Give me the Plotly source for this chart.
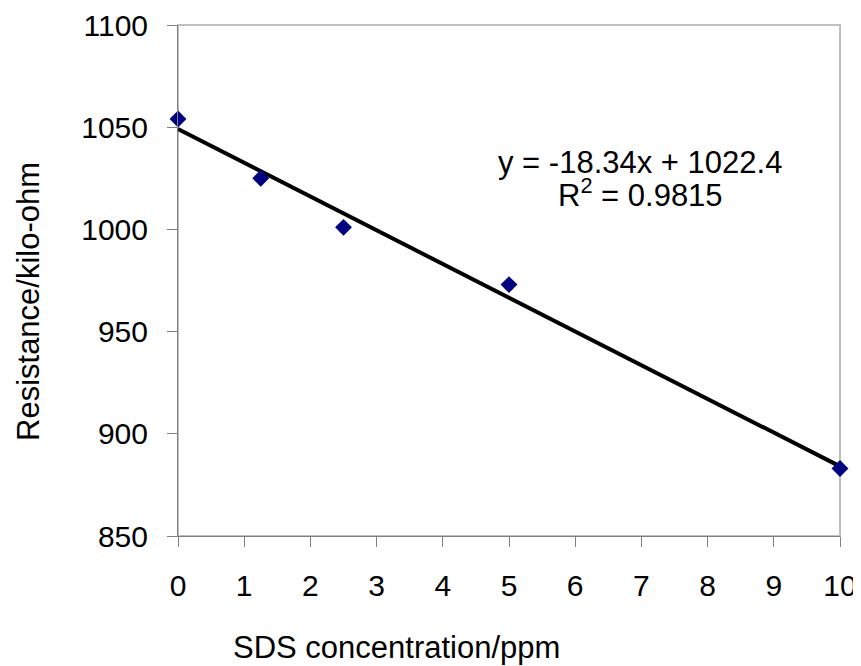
import numpy as np
import plotly.graph_objects as go

sds_ppm = [0, 1.25, 2.5, 5, 10]
resistance_kohm = [1054, 1025, 1001, 973, 883]
x_ticks = [0, 1, 2, 3, 4, 5, 6, 7, 8, 9, 10]
y_ticks = [850, 900, 950, 1000, 1050, 1100]
equation_line = "y = -18.34x + 1022.4"
r2_line = "R<sup>2</sup> = 0.9815"
x_title = "SDS concentration/ppm"
y_title = "Resistance/kilo-ohm"

slope, intercept = np.polyfit(sds_ppm, resistance_kohm, 1)
fit_x = [min(sds_ppm), max(sds_ppm)]
fit_y = [slope * v + intercept for v in fit_x]

FONT = "Liberation Sans, Arial, sans-serif"
OFF = 8  # page body margin
W, H = 861 - OFF, 666 - OFF
L, R, T, B = 178 - OFF, 21, 25 - OFF, 130
pw, ph = W - L - R, H - T - B


def px_to_paper_x(sx):
    return (sx - OFF - L) / pw


def px_to_paper_y(sy):
    return 1 - (sy - OFF - T) / ph


fig = go.Figure()
fig.add_trace(go.Scatter(
    x=fit_x, y=fit_y, mode="lines",
    line=dict(color="black", width=4),
    showlegend=False, hoverinfo="skip", cliponaxis=False,
))
fig.add_trace(go.Scatter(
    x=sds_ppm, y=resistance_kohm, mode="markers",
    marker=dict(symbol="diamond", size=13, color="#000080",
                line=dict(width=0)),
    showlegend=False, cliponaxis=False,
))

fig.add_shape(type="rect", xref="x domain", yref="y domain",
              x0=0, x1=1, y0=0, y1=1,
              line=dict(color="#c0c0c0", width=2), layer="below")

# trendline label
fig.add_annotation(x=6.98, y=1032.5, xref="x", yref="y", showarrow=False,
                   text=equation_line, xanchor="center", yanchor="middle",
                   font=dict(family=FONT, size=31, color="black"))
fig.add_annotation(x=6.98, y=1018, xref="x", yref="y", showarrow=False,
                   text=r2_line, xanchor="center", yanchor="middle",
                   font=dict(family=FONT, size=31, color="black"))

# axis titles
fig.add_annotation(x=px_to_paper_x(396), y=px_to_paper_y(647), xref="paper", yref="paper",
                   showarrow=False, text=x_title, xanchor="center", yanchor="middle",
                   font=dict(family=FONT, size=31, color="black"))
fig.add_annotation(x=px_to_paper_x(28), y=px_to_paper_y(302), xref="paper", yref="paper",
                   showarrow=False, text=y_title, textangle=-90,
                   xanchor="center", yanchor="middle",
                   font=dict(family=FONT, size=31, color="black"))

fig.update_layout(
    width=W, height=H,
    margin=dict(l=L, r=R, t=T, b=B, autoexpand=False),
    paper_bgcolor="white", plot_bgcolor="white",
    font=dict(family=FONT, size=30, color="black"),
)
fig.update_xaxes(
    range=[0, 10], tickvals=x_ticks, ticktext=[str(v) for v in x_ticks],
    showgrid=False, zeroline=False, automargin=False,
    showline=True, linecolor="#808080", linewidth=1,
    ticks="outside", ticklen=10, tickcolor="#808080", tickwidth=1,
    ticklabelstandoff=13,
)
fig.update_yaxes(
    range=[850, 1100], tickvals=y_ticks, ticktext=[str(v) for v in y_ticks],
    showgrid=False, zeroline=False, automargin=False,
    showline=True, linecolor="#808080", linewidth=1,
    ticks="outside", ticklen=10, tickcolor="#808080", tickwidth=1,
    ticklabelstandoff=13,
)
fig.write_html("out.html")
